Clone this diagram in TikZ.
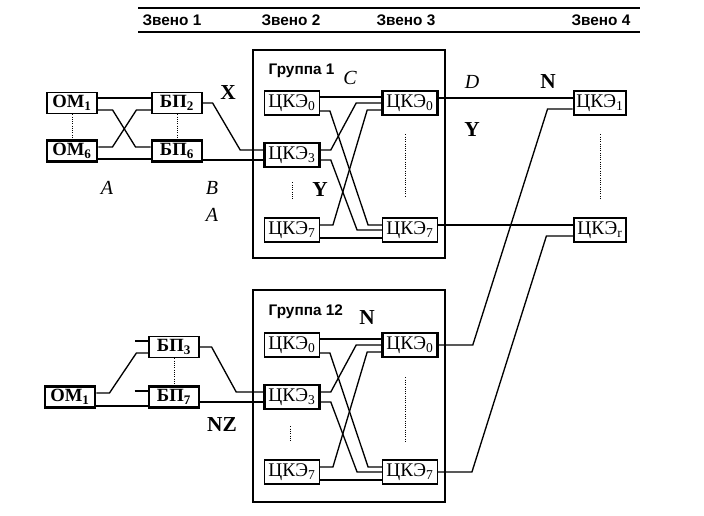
\documentclass[tikz,border=0pt]{standalone}
\usepackage{fontspec}
\setmainfont{Liberation Serif}
\setsansfont{Liberation Sans}
\usetikzlibrary{calc}
\begin{document}
\begin{tikzpicture}[x=0.75pt,y=-0.75pt,
        blk/.style={draw,line width=0.9pt,inner sep=0pt,minimum width=41pt,minimum height=18pt,font=\fontsize{14.5}{17}\selectfont},
        small/.style={minimum width=37.5pt,minimum height=16pt,font=\fontsize{14}{16}\selectfont\bfseries},
        thk/.style={line width=2.2pt},
        wire/.style={line width=1pt},
        dots/.style={densely dotted,line width=0.7pt},
        grp/.style={line width=1.5pt},
        hdr/.style={font=\fontsize{11.5}{13}\selectfont\sffamily\bfseries},
        lbl/.style={font=\fontsize{16}{18}\selectfont\bfseries},
        ilbl/.style={font=\fontsize{15}{17}\selectfont\itshape}]
        \useasboundingbox (0,0) rectangle (704,516);
        % header
        \draw[line width=1.3pt] (138,8) -- (640,8);
        \draw[line width=1.3pt] (138,32) -- (640,32);
        \node[hdr] (z1) at (172,20) {Звено 1};
        \node[hdr] (z2) at (291,20) {Звено 2};
        \node[hdr] (z3) at (406,20) {Звено 3};
        \node[hdr] (z4) at (601,20) {Звено 4};
        % groups
        \draw[grp] (253,50) rectangle (445,258);
        \draw[grp] (253,290) rectangle (445,502);
        \node[hdr,anchor=west] (g1) at (264,71) {Группа 1};
        \node[hdr,anchor=west] (g12) at (264,312) {Группа 12};
        % blocks, upper part
        \node[blk,small] (om1) at (72,103) {ОМ\textsubscript{1}};
        \node[blk,small,thk] (om6) at (72,151) {ОМ\textsubscript{6}};
        \node[blk,small] (bp2) at (177,103) {БП\textsubscript{2}};
        \node[blk,small,thk] (bp6) at (177,151) {БП\textsubscript{6}};
        \node[blk] (a0) at (292,103) {ЦКЭ\textsubscript{0}};
        \node[blk,thk] (a3) at (292,155) {ЦКЭ\textsubscript{3}};
        \node[blk] (a7) at (292,230) {ЦКЭ\textsubscript{7}};
        \node[blk,thk] (b0) at (410,103) {ЦКЭ\textsubscript{0}};
        \node[blk] (b7) at (410,230) {ЦКЭ\textsubscript{7}};
        \node[blk,minimum width=39pt,thk] (e1) at (600,103) {ЦКЭ\textsubscript{1}};
        \node[blk,minimum width=39pt] (er) at (600,230) {ЦКЭ\textsubscript{r}};
        % blocks, lower part
        \node[blk,small,thk] (om1b) at (70,397) {ОМ\textsubscript{1}};
        \node[blk,small] (bp3) at (174,347) {БП\textsubscript{3}};
        \node[blk,small,thk] (bp7) at (174,397) {БП\textsubscript{7}};
        \node[blk] (c0) at (292,345) {ЦКЭ\textsubscript{0}};
        \node[blk,thk] (c3) at (292,397) {ЦКЭ\textsubscript{3}};
        \node[blk] (c7) at (292,472) {ЦКЭ\textsubscript{7}};
        \node[blk,thk] (d0) at (410,345) {ЦКЭ\textsubscript{0}};
        \node[blk] (d7) at (410,472) {ЦКЭ\textsubscript{7}};
        % OM -> BP
        \draw[wire] ($(om1.east)+(0,-5)$) -- ($(bp2.west)+(0,-5)$);
        \draw[wire] ($(om1.east)+(0,7)$) -- ++(15,0) -- ($(bp6.west)+(-15,-4)$) -- ($(bp6.west)+(0,-4)$);
        \draw[wire] ($(om6.east)+(0,-4)$) -- ++(14,0) -- ($(bp2.west)+(-15,7)$) -- ($(bp2.west)+(0,7)$);
        \draw[wire] ($(om6.east)+(0,8)$) -- ($(bp6.west)+(0,8)$);
        \draw[wire] (bp2.east) -- ++(10,0) -- ($(a3.west)+(-23,-5)$) -- ($(a3.west)+(0,-5)$);
        \draw[wire] ($(bp6.east)+(0,9)$) -- ($(a3.west)+(0,5)$);
        % group 1
        \draw[wire] ($(a0.east)+(0,-6)$) -- ($(b0.west)+(0,-6)$);
        \draw[wire] ($(a0.east)+(0,8)$) -- ++(10,0) -- ($(b7.west)+(-14,-5)$) -- ($(b7.west)+(0,-5)$);
        \draw[wire] ($(a3.east)+(0,-5)$) -- ++(10,0) -- ($(b0.west)+(-25,0)$) -- (b0.west);
        \draw[wire] ($(a3.east)+(0,5)$) -- ++(10,0) -- ($(b7.west)+(-25,0)$) -- (b7.west);
        \draw[wire] ($(a7.east)+(0,-5)$) -- ++(13,0) -- ($(b0.west)+(-14,7)$) -- ($(b0.west)+(0,7)$);
        \draw[wire] ($(a7.east)+(0,8)$) -- ($(b7.west)+(0,8)$);
        \draw[wire] ($(b0.east)+(0,-5)$) -- ($(e1.west)+(0,-5)$);
        \draw[wire] ($(b7.east)+(0,-5)$) -- ($(er.west)+(0,-5)$);
        % lower left
        \draw[wire] ($(bp3.west)+(-13,-6)$) -- ($(bp3.west)+(0,-6)$);
        \draw[wire] ($(bp7.west)+(-13,-6)$) -- ($(bp7.west)+(0,-6)$);
        \draw[wire] ($(om1b.east)+(0,-4)$) -- ++(13,0) -- ($(bp3.west)+(-12,6)$) -- ($(bp3.west)+(0,6)$);
        \draw[wire] ($(om1b.east)+(0,9)$) -- ($(bp7.west)+(0,9)$);
        \draw[wire] (bp3.east) -- ++(12,0) -- ($(c3.west)+(-27,-5)$) -- ($(c3.west)+(0,-5)$);
        \draw[wire] ($(bp7.east)+(0,5)$) -- ($(c3.west)+(0,5)$);
        % group 12
        \draw[wire] ($(c0.east)+(0,-6)$) -- ($(d0.west)+(0,-6)$);
        \draw[wire] ($(c0.east)+(0,8)$) -- ++(10,0) -- ($(d7.west)+(-14,-5)$) -- ($(d7.west)+(0,-5)$);
        \draw[wire] ($(c3.east)+(0,-5)$) -- ++(10,0) -- ($(d0.west)+(-25,0)$) -- (d0.west);
        \draw[wire] ($(c3.east)+(0,5)$) -- ++(10,0) -- ($(d7.west)+(-25,0)$) -- (d7.west);
        \draw[wire] ($(c7.east)+(0,-5)$) -- ++(13,0) -- ($(d0.west)+(-14,7)$) -- ($(d0.west)+(0,7)$);
        \draw[wire] ($(c7.east)+(0,8)$) -- ($(d7.west)+(0,8)$);
        \draw[wire] (d0.east) -- ++(34,0) -- ($(e1.west)+(-25,6)$) -- ($(e1.west)+(0,6)$);
        \draw[wire] (d7.east) -- ++(34,0) -- ($(er.west)+(-27,6)$) -- ($(er.west)+(0,6)$);
        % dotted
        \draw[dots] (om1.south) -- (om6.north);
        \draw[dots] (bp2.south) -- (bp6.north);
        \draw[dots] (bp3.south) -- (bp7.north);
        \draw[dots] ($(a3.south)+(0,14)$) -- ($(a7.north)+(0,-19)$);
        \draw[dots] ($(b0.south)+(-5,18)$) -- ($(b7.north)+(-5,-21)$);
        \draw[dots] ($(e1.south)+(0,18)$) -- ($(er.north)+(0,-18)$);
        \draw[dots] ($(c3.south)+(-2,16)$) -- ($(c7.north)+(-2,-18)$);
        \draw[dots] ($(d0.south)+(-5,19)$) -- ($(d7.north)+(-5,-18)$);
        % labels
        \node[lbl] (lx) at (228,93) {X};
        \node[ilbl] (la1) at (107,188) {A};
        \node[ilbl] (lb) at (212,188) {B};
        \node[ilbl] (la2) at (212,215) {A};
        \node[ilbl] (lc) at (350,78) {C};
        \node[lbl] (ly1) at (320,190) {Y};
        \node[ilbl] (ld) at (472,82) {D};
        \node[lbl] (ln1) at (548,82) {N};
        \node[lbl] (ly2) at (472,130) {Y};
        \node[lbl] (ln2) at (367,318) {N};
        \node[lbl] (lnz) at (222,425) {NZ};
    \end{tikzpicture}
\end{document}
